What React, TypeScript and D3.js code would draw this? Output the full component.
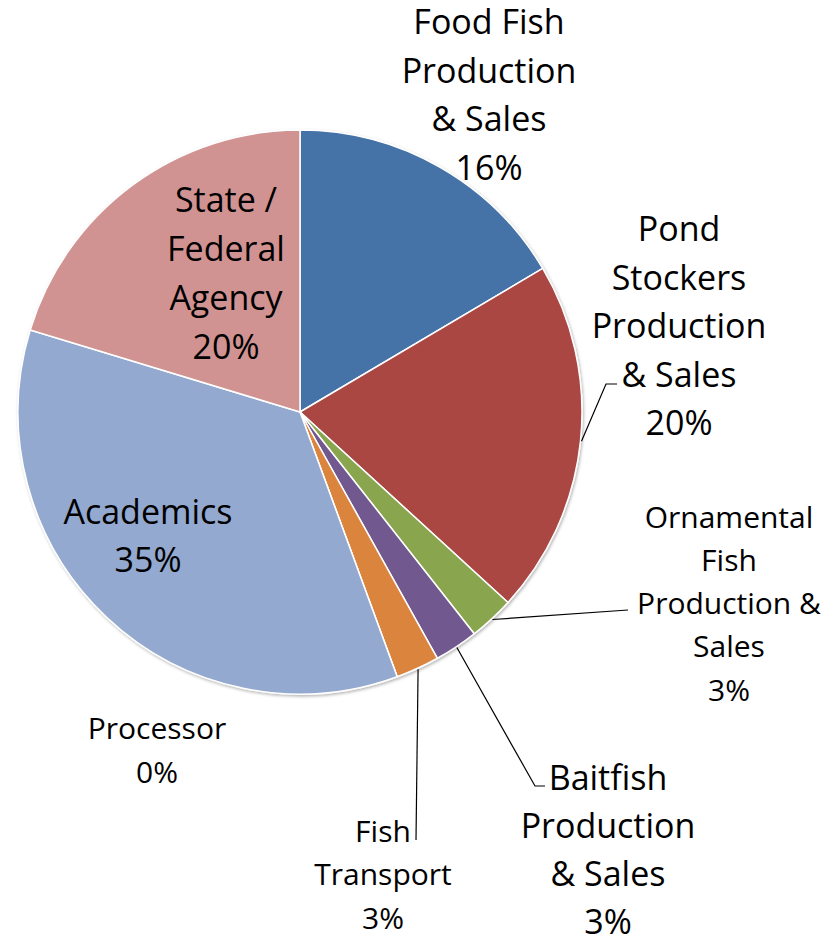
import { useEffect, useRef } from 'react';
import * as d3 from 'd3';

const categories = [
  'Food Fish Production & Sales',
  'Pond Stockers Production & Sales',
  'Ornamental Fish Production & Sales',
  'Baitfish Production & Sales',
  'Fish Transport',
  'Processor',
  'Academics',
  'State / Federal Agency',
];
// slice sizes (percent)
const shares = [16.5, 20.3, 2.6, 2.5, 2.5, 0, 35.3, 20.3];
const percentLabels = ['16%', '20%', '3%', '3%', '3%', '0%', '35%', '20%'];
const colors = ['#4572A7', '#AA4643', '#89A54E', '#71588F', '#DB843D', '#4198AF', '#93A9CF', '#D19392'];

// label text lines (percent goes underneath)
const labelLines = [
  ['Food Fish', 'Production', '& Sales'],
  ['Pond', 'Stockers', 'Production', '& Sales'],
  ['Ornamental', 'Fish', 'Production &', 'Sales'],
  ['Baitfish', 'Production', '& Sales'],
  ['Fish', 'Transport'],
  ['Processor'],
  ['Academics'],
  ['State /', 'Federal', 'Agency'],
];

// layout: label centre x, first line centre y, font size, line step, leader elbow
type Layout = { x: number; y: number; size: number; step: number; leader?: [number, number][] };
const layout: Layout[] = [
  { x: 489, y: 21, size: 34, step: 48.5 },
  { x: 679, y: 228, size: 34, step: 48.5, leader: [[606, 384], [617, 384]] },
  { x: 729, y: 516, size: 30, step: 43.3, leader: [[628, 610]] },
  { x: 608, y: 777, size: 34, step: 48, leader: [[535, 786], [545, 786]] },
  { x: 383, y: 830, size: 30, step: 43.5, leader: [[416, 840]] },
  { x: 157, y: 727, size: 30, step: 44.5 },
  { x: 148, y: 511, size: 34, step: 47.5 },
  { x: 226, y: 199, size: 34, step: 49 },
];

const App = () => {
  const svgRef = useRef<SVGSVGElement>(null);

  useEffect(() => {
    if (!svgRef.current) return;
    const width = 829;
    const height = 935;
    const cx = 300;
    const cy = 412;
    const radius = 282;

    const svg = d3.select(svgRef.current);
    svg.selectAll('*').remove();

    const defs = svg.append('defs');
    const filter = defs.append('filter').attr('id', 'pie-shadow')
      .attr('x', '-10%').attr('y', '-10%').attr('width', '120%').attr('height', '120%');
    filter.append('feDropShadow')
      .attr('dx', 1).attr('dy', 1.5).attr('stdDeviation', 1.5)
      .attr('flood-color', '#000').attr('flood-opacity', 0.3);

    const g = svg.append('g').attr('transform', `translate(${cx},${cy})`);

    const pie = d3.pie<number>().sort(null).value(d => d);
    const arcs = pie(shares);
    const arc = d3.arc<d3.PieArcDatum<number>>().innerRadius(0).outerRadius(radius);

    g.append('g').attr('filter', 'url(#pie-shadow)')
      .selectAll('path')
      .data(arcs)
      .enter()
      .append('path')
      .attr('d', arc)
      .attr('fill', (_, i) => colors[i])
      .attr('stroke', '#fff')
      .attr('stroke-width', 1.5)
      .attr('stroke-linejoin', 'round');

    // leader lines
    arcs.forEach((a, i) => {
      const lay = layout[i];
      if (!lay.leader) return;
      const mid = (a.startAngle + a.endAngle) / 2;
      const r0 = radius + 1;
      const start: [number, number] = [cx + Math.sin(mid) * r0, cy - Math.cos(mid) * r0];
      svg.append('path')
        .attr('d', d3.line()([start, ...lay.leader]))
        .attr('fill', 'none')
        .attr('stroke', '#000')
        .attr('stroke-width', 1.2);
    });

    // labels
    arcs.forEach((_, i) => {
      const lay = layout[i];
      const lines = [...labelLines[i], percentLabels[i]];
      const text = svg.append('text')
        .attr('text-anchor', 'middle')
        .attr('font-family', '"Open Sans", sans-serif')
        .attr('font-size', lay.size)
        .attr('fill', '#000');
      lines.forEach((line, k) => {
        text.append('tspan')
          .attr('x', lay.x)
          .attr('y', lay.y + k * lay.step)
          .attr('dominant-baseline', 'central')
          .text(line);
      });
    });

    svg.attr('width', width).attr('height', height);
  }, []);

  return (
    <div style={{ position: 'absolute', left: 0, top: 0 }}>
      <svg ref={svgRef} style={{ display: 'block', background: '#fff' }}></svg>
    </div>
  );
};

export default App;
